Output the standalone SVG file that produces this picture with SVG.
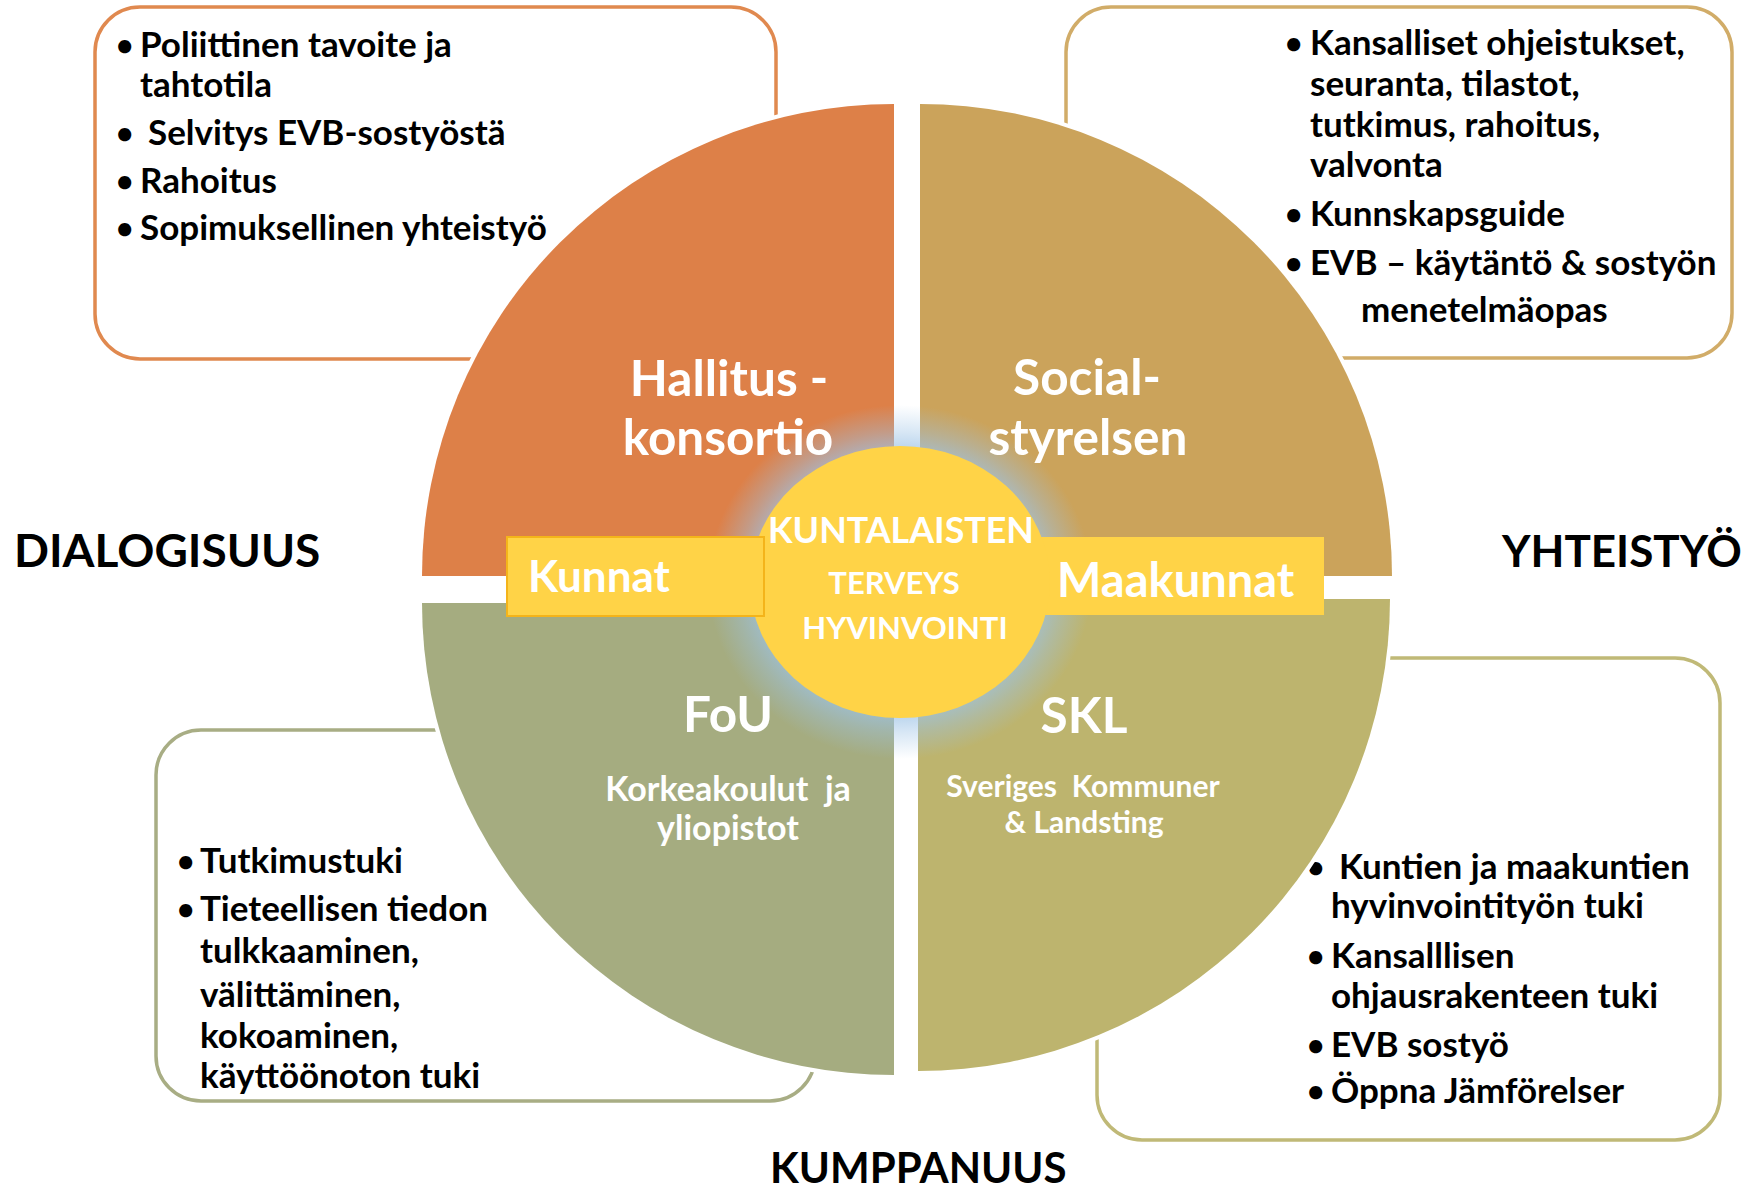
<svg xmlns="http://www.w3.org/2000/svg" width="1758" height="1192" viewBox="0 0 1758 1192">
<style>
  .box { fill: #ffffff; stroke-width: 3.5; }
  .q { stroke: #ffffff; stroke-width: 8; paint-order: stroke; }
  .li { font-family: Lato, "Open Sans", "Liberation Sans", sans-serif; font-weight: 700; font-size: 35px; fill: #000000; }
  .bu { font-family: Lato, "Open Sans", "Liberation Sans", sans-serif; font-weight: 700; font-size: 30px; fill: #000000; }
  .title { font-family: Lato, "Liberation Sans", sans-serif; font-weight: 700; font-size: 49.5px; fill: #ffffff; text-anchor: middle; }
  .sub { font-family: Lato, "Liberation Sans", sans-serif; font-weight: 700; font-size: 34px; fill: #ffffff; text-anchor: middle; white-space: pre; }
  .sub2 { font-family: Lato, "Liberation Sans", sans-serif; font-weight: 700; font-size: 30px; fill: #ffffff; text-anchor: middle; white-space: pre; }
  .ctr { font-family: Lato, "Liberation Sans", sans-serif; font-weight: 700; fill: #ffffff; text-anchor: middle; }
  .lbl { font-family: Lato, "Liberation Sans", sans-serif; font-weight: 700; fill: #ffffff; }
  .side { font-family: Lato, "Liberation Sans", sans-serif; font-weight: 700; fill: #000000; }
</style>
<defs>
  <radialGradient id="glow" cx="0.5" cy="0.5" r="0.5">
    <stop offset="0.72" stop-color="#9DC3E6" stop-opacity="0.8"/>
    <stop offset="0.85" stop-color="#9DC3E6" stop-opacity="0.4"/>
    <stop offset="1" stop-color="#9DC3E6" stop-opacity="0"/>
  </radialGradient>
</defs>
<rect width="1758" height="1192" fill="#ffffff"/>

<g id="box-hallitus">
  <rect class="box" x="95" y="7" width="681" height="352" rx="45" stroke="#E0894F"/>
  <text class="bu" x="116" y="56">•</text><text class="li" x="140" y="57">Poliittinen tavoite ja</text>
  <text class="li" x="140" y="97">tahtotila</text>
  <text class="bu" x="116" y="144">•</text><text class="li" x="148" y="145">Selvitys EVB-sostyöstä</text>
  <text class="bu" x="116" y="192">•</text><text class="li" x="140" y="193">Rahoitus</text>
  <text class="bu" x="116" y="239">•</text><text class="li" x="140" y="240">Sopimuksellinen yhteistyö</text>
</g>

<g id="box-social">
  <rect class="box" x="1066" y="7" width="666" height="351" rx="45" stroke="#D1AC68"/>
  <text class="bu" x="1285" y="54">•</text><text class="li" x="1310" y="55">Kansalliset ohjeistukset,</text>
  <text class="li" x="1310" y="96">seuranta, tilastot,</text>
  <text class="li" x="1310" y="137">tutkimus, rahoitus,</text>
  <text class="li" x="1310" y="177">valvonta</text>
  <text class="bu" x="1285" y="225">•</text><text class="li" x="1310" y="226">Kunnskapsguide</text>
  <text class="bu" x="1285" y="274">•</text><text class="li" x="1310" y="275">EVB – käytäntö &amp; sostyön</text>
  <text class="li" x="1361" y="322">menetelmäopas</text>
</g>

<g id="box-fou">
  <rect class="box" x="156" y="730" width="659" height="371" rx="45" stroke="#A8AD84"/>
  <text class="bu" x="177" y="872">•</text><text class="li" x="200" y="873">Tutkimustuki</text>
  <text class="bu" x="177" y="920">•</text><text class="li" x="200" y="921">Tieteellisen tiedon</text>
  <text class="li" x="200" y="963">tulkkaaminen,</text>
  <text class="li" x="200" y="1007">välittäminen,</text>
  <text class="li" x="200" y="1048">kokoaminen,</text>
  <text class="li" x="200" y="1088">käyttöönoton tuki</text>
</g>

<g id="box-skl">
  <rect class="box" x="1097" y="658" width="623" height="482" rx="45" stroke="#C0B977"/>
  <text class="bu" x="1307" y="878">•</text><text class="li" x="1339" y="879">Kuntien ja maakuntien</text>
  <text class="li" x="1331" y="918">hyvinvointityön tuki</text>
  <text class="bu" x="1307" y="967">•</text><text class="li" x="1331" y="968">Kansalllisen</text>
  <text class="li" x="1331" y="1008">ohjausrakenteen tuki</text>
  <text class="bu" x="1307" y="1056">•</text><text class="li" x="1331" y="1057">EVB sostyö</text>
  <text class="bu" x="1307" y="1102">•</text><text class="li" x="1331" y="1103">Öppna Jämförelser</text>
</g>

<g id="quadrant-hallitus">
  <path class="q" d="M894,576 L422,576 A472,472 0 0,1 894,104 Z" fill="#DD8048"/>
</g>
<g id="quadrant-social">
  <path class="q" d="M920,576 L920,104 A472,472 0 0,1 1392,576 Z" fill="#CBA35B"/>
</g>
<g id="quadrant-fou">
  <path class="q" d="M894,603 L894,1075 A472,472 0 0,1 422,603 Z" fill="#A5AC80"/>
</g>
<g id="quadrant-skl">
  <path class="q" d="M918,599 L1390,599 A472,472 0 0,1 918,1071 Z" fill="#BDB46E"/>
</g>

<g id="glow-center">
  <ellipse cx="900" cy="582" rx="192" ry="177" fill="url(#glow)"/>
</g>

<g id="maakunnat">
  <rect x="1000" y="537" width="324" height="78" fill="#FFD347"/>
</g>

<g id="center">
  <ellipse cx="900" cy="582" rx="150" ry="136" fill="#FFD347"/>
</g>

<g id="kunnat">
  <rect x="507" y="537" width="257" height="79" fill="#FFD347" stroke="#F4B41A" stroke-width="2"/>
  <text class="lbl" x="528" y="592" font-size="44">Kunnat</text>
</g>

<g id="labels">
  <text class="lbl" x="1057" y="597" font-size="47">Maakunnat</text>
  <text class="ctr" x="901" y="543" font-size="35.8">KUNTALAISTEN</text>
  <text class="ctr" x="894" y="594" font-size="31">TERVEYS</text>
  <text class="ctr" x="905" y="639" font-size="31">HYVINVOINTI</text>

  <text class="title" x="729" y="396">Hallitus -</text>
  <text class="title" x="728" y="455">konsortio</text>
  <text class="title" x="1087" y="395">Social-</text>
  <text class="title" x="1088" y="455">styrelsen</text>
  <text class="title" x="728" y="732">FoU</text>
  <text class="sub" x="728" y="801">Korkeakoulut  ja</text>
  <text class="sub" x="728" y="840">yliopistot</text>
  <text class="title" x="1084" y="733">SKL</text>
  <text class="sub2" x="1083" y="797">Sveriges  Kommuner</text>
  <text class="sub2" x="1084" y="833">&amp; Landsting</text>

  <text class="side" x="14" y="567" font-size="46">DIALOGISUUS</text>
  <text class="side" x="1502" y="567" font-size="44">YHTEISTYÖ</text>
  <text class="side" x="770" y="1183" font-size="42">KUMPPANUUS</text>
</g>
<g id="connectors"></g>
</svg>
